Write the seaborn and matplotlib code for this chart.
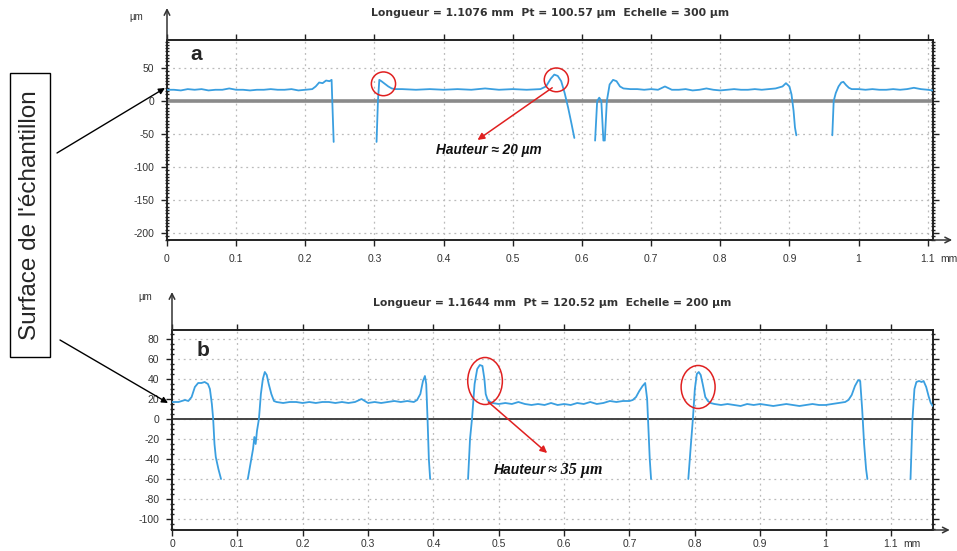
import matplotlib
matplotlib.use('Agg')
import pandas as pd
import matplotlib.pyplot as plt
import seaborn as sns
from matplotlib.patches import Ellipse, Rectangle
from matplotlib.ticker import MultipleLocator

# Profile a: x (mm) and height (um), one list per continuous piece of the trace
a_x = [
    [0, 0.01, 0.02, 0.03, 0.04, 0.05, 0.06, 0.07, 0.08, 0.09, 0.10, 0.11, 0.12, 0.13, 0.14,
     0.15, 0.16, 0.17, 0.18, 0.19, 0.20, 0.21, 0.215, 0.22, 0.225, 0.23, 0.235, 0.238, 0.239, 0.241],
    [0.303, 0.305, 0.307, 0.31, 0.315, 0.32, 0.325, 0.33, 0.34, 0.36, 0.38, 0.40, 0.42, 0.44,
     0.46, 0.48, 0.50, 0.52, 0.54, 0.548, 0.555, 0.56, 0.565, 0.57, 0.575, 0.58, 0.585, 0.589],
    [0.619, 0.622, 0.625, 0.628, 0.631],
    [0.633, 0.636, 0.640, 0.645, 0.650, 0.655, 0.66, 0.67, 0.68, 0.69, 0.70, 0.71, 0.72, 0.73,
     0.74, 0.75, 0.76, 0.77, 0.78, 0.79, 0.80, 0.81, 0.82, 0.83, 0.84, 0.85, 0.86, 0.87, 0.88,
     0.89, 0.895, 0.90, 0.903, 0.906, 0.908, 0.91],
    [0.962, 0.964, 0.967, 0.971, 0.975, 0.978, 0.982, 0.986, 0.99, 1.0, 1.01, 1.02, 1.03, 1.04,
     1.05, 1.06, 1.07, 1.08, 1.09, 1.1, 1.1076],
]
a_z = [
    [17, 17, 16, 18, 17, 18, 16, 17, 17, 19, 17, 17, 16, 17, 17,
     18, 17, 17, 18, 16, 17, 18, 22, 28, 27, 31, 30, 32, 0, -62],
    [-62, 0, 32, 30, 26, 22, 19, 18, 18, 17, 18, 17, 18, 17,
     19, 17, 18, 17, 18, 22, 34, 40, 38, 30, 12, -10, -35, -56],
    [-60, 0, 5, 0, -60],
    [-60, 0, 25, 32, 30, 22, 19, 18, 18, 17, 18, 17, 22, 17,
     17, 18, 16, 17, 19, 17, 16, 17, 18, 17, 17, 18, 17, 18, 19,
     22, 27, 22, 10, -15, -40, -52],
    [-52, 0, 12, 22, 28, 29, 24, 20, 18, 18, 17, 18, 17, 17,
     18, 17, 18, 20, 18, 17, 16],
]

# Profile b
b_x = [
    [0, 0.01, 0.02, 0.025, 0.03, 0.035, 0.04, 0.045, 0.05, 0.055, 0.058, 0.061, 0.063, 0.065,
     0.067, 0.071, 0.075],
    [0.116, 0.12, 0.124, 0.126, 0.128, 0.130, 0.133, 0.136, 0.139, 0.142, 0.145, 0.148, 0.152,
     0.156, 0.16, 0.17, 0.18, 0.19, 0.20, 0.21, 0.22, 0.23, 0.24, 0.25, 0.26, 0.27, 0.28, 0.29,
     0.30, 0.31, 0.32, 0.33, 0.34, 0.35, 0.36, 0.37, 0.375, 0.38, 0.384, 0.387, 0.389, 0.391,
     0.393, 0.395],
    [0.453, 0.456, 0.459, 0.463, 0.467, 0.471, 0.475, 0.478, 0.48, 0.483, 0.487, 0.49,
     0.50, 0.51, 0.52, 0.53, 0.54, 0.55, 0.56, 0.57, 0.58, 0.59, 0.60, 0.61, 0.62, 0.63, 0.64,
     0.65, 0.66, 0.67, 0.68, 0.69, 0.70,
     0.705, 0.71, 0.715, 0.72, 0.724, 0.727, 0.729, 0.731, 0.733],
    [0.790, 0.794, 0.797, 0.800, 0.803, 0.806, 0.809, 0.812, 0.816, 0.82, 0.824, 0.83,
     0.84, 0.85, 0.86, 0.87, 0.88, 0.89, 0.90, 0.91, 0.92, 0.93, 0.94, 0.95, 0.96, 0.97, 0.98,
     0.99, 1.00, 1.01, 1.02, 1.03,
     1.035, 1.04, 1.045, 1.05, 1.053, 1.056, 1.059, 1.062, 1.064],
    [1.130, 1.133, 1.136, 1.139, 1.143, 1.147, 1.150, 1.154, 1.158, 1.161, 1.164],
]
b_z = [
    [17, 17, 19, 18, 22, 32, 36, 36, 37, 35, 30, 15, 0, -25, -38, -50, -60],
    [-60, -45, -30, -18, -25, -12, 0, 25, 40, 47, 44, 35, 25, 18, 17,
     16, 17, 17, 16, 17, 16, 17, 17, 16, 17, 16, 17, 20, 16, 17, 16, 17, 18, 17, 18, 17,
     19, 25, 38, 43, 35, 0, -40, -60],
    [-60, -20, 0, 35, 50, 54, 53, 40, 25, 19, 17, 16,
     15, 16, 15, 17, 15, 14, 15, 14, 16, 14, 15, 14, 16, 15, 17, 15, 16, 18, 17, 18, 18,
     19, 22, 28, 33, 36, 20, -10, -40, -60],
    [-60, -25, 0, 30, 45, 47, 44, 35, 22, 18, 16, 15,
     14, 15, 14, 13, 15, 14, 15, 14, 13, 14, 15, 14, 13, 14, 15, 14, 14, 15, 16, 17,
     19, 24, 33, 39, 38, 10, -25, -50, -60],
    [-60, 0, 30, 37, 38, 37, 38, 32, 22, 16, 13],
]

x_ticks = [0, 0.1, 0.2, 0.3, 0.4, 0.5, 0.6, 0.7, 0.8, 0.9, 1.0, 1.1]
x_labels = ['0', '0.1', '0.2', '0.3', '0.4', '0.5', '0.6', '0.7', '0.8', '0.9', '1', '1.1']
a_yticks = [50, 0, -50, -100, -150, -200]
b_yticks = [80, 60, 40, 20, 0, -20, -40, -60, -80, -100]

title_a = 'Longueur = 1.1076 mm  Pt = 100.57 µm  Echelle = 300 µm'
title_b = 'Longueur = 1.1644 mm  Pt = 120.52 µm  Echelle = 200 µm'
note_a = 'Hauteur ≈ 20 µm'
note_b = ('Hauteur', '≈ 35 µm')
side_label = "Surface de l'échantillon"

sns.set_style('white')
plt.rcParams['font.family'] = ['Liberation Sans', 'DejaVu Sans']
plt.rcParams['axes.unicode_minus'] = False

LINE = '#3a9fe0'
RED = '#e02020'


def to_frame(xs, zs):
    rows = []
    for i, (xx, zz) in enumerate(zip(xs, zs)):
        for x, z in zip(xx, zz):
            rows.append((i, x, z))
    return pd.DataFrame(rows, columns=['seg', 'x', 'z'])


def style_axis(ax, xmax, ylim, yticks, arrow_top, arrow_right, xpad):
    ax.set_xlim(0, xmax)
    ax.set_ylim(*ylim)
    ax.set_xticks(x_ticks)
    ax.set_xticklabels(x_labels)
    ax.set_yticks(yticks)
    ax.yaxis.set_minor_locator(MultipleLocator(5))
    ax.set_xlabel('')
    ax.set_ylabel('')
    ax.grid(True, which='major', ls=(0, (1.5, 3)), color='#bbbbbb', lw=0.9)
    for s in ax.spines.values():
        s.set_color('#222222')
        s.set_linewidth(1.4)
    ax.tick_params(axis='both', which='major', labelsize=7.5, colors='#222222',
                   labelcolor='#333333', length=4, width=1, direction='out')
    ax.tick_params(axis='x', top=True, bottom=True, pad=xpad)
    ax.tick_params(axis='y', left=True, right=True, pad=5)
    ax.tick_params(axis='y', which='minor', left=True, right=True, length=2.5,
                   width=1, direction='inout', color='#222222')
    # axis arrows
    ax.annotate('', xy=(0, arrow_top), xytext=(0, 1.0), xycoords='axes fraction',
                arrowprops=dict(arrowstyle='->', lw=1.1, color='#333333',
                                shrinkA=0, shrinkB=0), annotation_clip=False)
    ax.annotate('', xy=(arrow_right, 0), xytext=(1.0, 0), xycoords='axes fraction',
                arrowprops=dict(arrowstyle='->', lw=1.1, color='#333333',
                                shrinkA=0, shrinkB=0), annotation_clip=False)
    ax.annotate('mm', xy=(1.1, 0), xycoords=('data', 'axes fraction'),
                xytext=(9, -(4 + xpad)), textcoords='offset points', va='top', ha='left',
                fontsize=7.5, color='#333333', annotation_clip=False)


fig = plt.figure(figsize=(9.57, 5.51), dpi=100)
ax_a = fig.add_axes([167 / 957, 1 - 240 / 551, 766 / 957, 200 / 551])
ax_b = fig.add_axes([172 / 957, 1 - 530 / 551, 761 / 957, 200 / 551])

# panel a
df_a = to_frame(a_x, a_z)
ax_a.axhline(0, color='#8a8a8a', lw=2.6, zorder=1)
sns.lineplot(data=df_a, x='x', y='z', units='seg', estimator=None, color=LINE,
             lw=1.3, ax=ax_a, zorder=3)
style_axis(ax_a, 1.1076, (-210.6, 92.4), a_yticks, 1.16, 1.025, 6)
ax_a.text(0.5, 1.135, title_a, transform=ax_a.transAxes, ha='center', va='center',
          fontsize=7.8, fontweight='bold', color='#333333', family='DejaVu Sans')
ax_a.text(-0.031, 1.115, 'µm', transform=ax_a.transAxes, ha='right', va='center',
          fontsize=7, color='#333333')
ax_a.text(0.03, 0.925, 'a', transform=ax_a.transAxes, ha='left', va='center',
          fontsize=15, fontweight='bold')
for cx, cy in [(0.313, 26), (0.563, 32)]:
    ax_a.add_patch(Ellipse((cx, cy), 0.035, 36, fill=False, ec=RED, lw=1.1, zorder=4))
ax_a.annotate('', xy=(0.449, -59), xytext=(0.557, 20),
              arrowprops=dict(arrowstyle='-|>', color=RED, lw=1.1, mutation_scale=10,
                              shrinkA=0, shrinkB=0))
ax_a.text(0.466, -74, note_a, ha='center', va='center', fontsize=9.8,
          fontweight='bold', fontstyle='italic', color='#111111')

# panel b
df_b = to_frame(b_x, b_z)
ax_b.axhline(0, color='#444444', lw=1.4, zorder=1)
sns.lineplot(data=df_b, x='x', y='z', units='seg', estimator=None, color=LINE,
             lw=1.3, ax=ax_b, zorder=3)
style_axis(ax_b, 1.1644, (-111, 89), b_yticks, 1.19, 1.022, 2.5)
ax_b.text(0.5, 1.135, title_b, transform=ax_b.transAxes, ha='center', va='center',
          fontsize=7.8, fontweight='bold', color='#333333', family='DejaVu Sans')
ax_b.text(-0.026, 1.165, 'µm', transform=ax_b.transAxes, ha='right', va='center',
          fontsize=7, color='#333333')
ax_b.text(0.032, 0.9, 'b', transform=ax_b.transAxes, ha='left', va='center',
          fontsize=15, fontweight='bold')
ax_b.add_patch(Ellipse((0.479, 38), 0.053, 47, fill=False, ec=RED, lw=1.1, zorder=4))
ax_b.add_patch(Ellipse((0.805, 32), 0.052, 43, fill=False, ec=RED, lw=1.1, zorder=4))
ax_b.annotate('', xy=(0.574, -34), xytext=(0.484, 17),
              arrowprops=dict(arrowstyle='-|>', color=RED, lw=1.1, mutation_scale=10,
                              shrinkA=0, shrinkB=0))
ax_b.text(0.5725, -51, note_b[0], ha='right', va='center', fontsize=10,
          fontweight='bold', fontstyle='italic', color='#111111')
ax_b.text(0.576, -51, note_b[1], ha='left', va='center', fontsize=11.5,
          fontweight='bold', fontstyle='italic', color='#111111',
          family=['Liberation Serif', 'DejaVu Serif'])

# side label with arrows to the sample surface
fig.add_artist(Rectangle((10 / 957, 1 - 357 / 551), 40 / 957, 284 / 551,
                         transform=fig.transFigure, fc='white', ec='black', lw=1))
fig.text(30 / 957, 1 - 215 / 551, side_label, rotation=90, ha='center', va='center',
         fontsize=17.5)
for (x0, y0), (x1, y1) in [((57, 153), (165, 88)), ((60, 340), (168, 403))]:
    fig.add_artist(plt.Annotation('', xy=(x1, 551 - y1), xytext=(x0, 551 - y0),
                                  xycoords='figure pixels', textcoords='figure pixels',
                                  arrowprops=dict(arrowstyle='-|>', color='black', lw=1,
                                                  mutation_scale=9, shrinkA=0, shrinkB=0)))

fig.savefig('out.png', dpi=100)
